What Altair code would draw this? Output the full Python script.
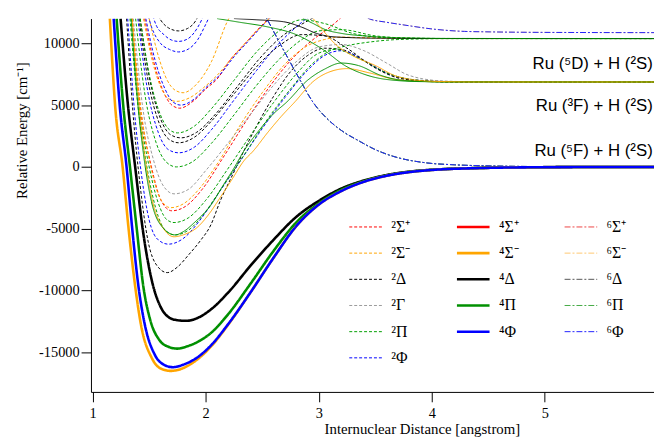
import altair as alt
import pandas as pd

# ---- legend states; order chosen so Vega's 3-column vertical legend reads
#      column 1 = doublets, column 2 = quartets, column 3 = sextets ----
states = ["²Σ⁺", "²Σ⁻", "²Δ", "²Γ", "²Π", "⁶Φ",
          "⁴Σ⁺", "⁴Σ⁻", "⁴Δ", "⁴Π", "⁴Φ", "²Φ",
          "⁶Σ⁺", "⁶Σ⁻", "⁶Δ", "⁶Π"]
color_of = {
    "²Σ⁺": "#ff0000", "²Σ⁻": "#ffa500", "²Δ": "#000000", "²Γ": "#9a9a9a",
    "²Π": "#00a000", "²Φ": "#0000ff",
    "⁴Σ⁺": "#ff0000", "⁴Σ⁻": "#ffa500", "⁴Δ": "#000000", "⁴Π": "#009000",
    "⁴Φ": "#0000ff",
    "⁶Σ⁺": "#ee4444", "⁶Σ⁻": "#ffc870", "⁶Δ": "#555555", "⁶Π": "#44aa44",
    "⁶Φ": "#2222ff",
}
dash_of = {"²": [3, 2], "⁴": [1, 0], "⁶": [6, 2, 2, 2]}
width_of = {"²": 1.0, "⁴": 2.6, "⁶": 1.0}
state_colors = [color_of[s] for s in states]
state_dashes = [dash_of[s[0]] for s in states]
state_widths = [width_of[s[0]] for s in states]

# ---- doublet curves (dashed) : R [angstrom], E [cm-1] ----
d1_R = [1.30, 1.36, 1.42, 1.49, 1.57, 1.66, 1.75, 1.85, 1.95, 2.045, 2.13, 2.24, 2.337, 2.45, 2.6, 2.75, 2.9, 3.05, 3.2, 3.4, 3.6, 3.85, 4.2, 6.0]
d1_E = [12000, 4000, -1500, -6000, -8000, -8550, -8100, -7100, -6000, -4700, -2720, -600, 1280, 3300, 5700, 7700, 9000, 9600, 9500, 8600, 7600, 7000, 6880, 6870]
d2_R = [1.31, 1.37, 1.43, 1.50, 1.58, 1.67, 1.80, 1.95, 2.1, 2.3, 2.5, 2.7, 2.9, 3.05, 3.2, 3.4, 3.6, 3.9, 4.4, 6.0]
d2_E = [12000, 4500, -500, -4300, -5900, -6250, -5800, -4300, -2300, 400, 3100, 5600, 7800, 9000, 9400, 8600, 7600, 7000, 6870, 6870]
d3_R = [1.33, 1.40, 1.48, 1.58, 1.65, 1.73, 1.85, 2.0, 2.15, 2.35, 2.55, 2.75, 2.95, 3.1, 3.25, 3.45, 3.7, 4.2, 6.0]
d3_E = [12000, 5000, 0, -4000, -5200, -5500, -5100, -3600, -1600, 1100, 3900, 6300, 8400, 9400, 9800, 10100, 10300, 10380, 10380]
d4_R = [1.34, 1.41, 1.50, 1.60, 1.66, 1.72, 1.85, 2.0, 2.2, 2.4, 2.6, 2.8, 3.0, 3.15, 3.35, 3.6, 3.9, 4.3, 6.0]
d4_E = [12000, 5000, 0, -3400, -4300, -4500, -4100, -2700, -100, 2600, 5200, 7500, 9200, 9500, 8800, 7600, 7000, 6870, 6870]
d5_R = [1.35, 1.42, 1.52, 1.61, 1.70, 1.82, 1.97, 2.15, 2.35, 2.55, 2.75, 2.95, 3.1, 3.2]
d5_E = [12000, 5000, 0, -2800, -3550, -3200, -1800, 700, 3600, 6300, 8600, 10300, 11300, 12100]
d5b_R = [1.35, 1.42, 1.51, 1.60, 1.69, 1.80, 1.95, 2.12, 2.3, 2.5, 2.7, 2.9, 3.05, 3.2, 3.4, 3.7, 4.0, 6.0]
d5b_E = [12000, 5200, 200, -2600, -3300, -3000, -1700, 500, 3300, 6000, 8300, 9800, 10300, 10500, 10450, 10400, 10380, 10380]
d6_R = [1.36, 1.44, 1.54, 1.63, 1.72, 1.85, 2.0, 2.19, 2.4, 2.6, 2.8, 3.0, 3.2, 3.4, 3.6, 3.8, 4.1, 4.5, 6.0]
d6_E = [12000, 5000, 500, -1600, -2180, -1800, -300, 1840, 4300, 6600, 8500, 9700, 9900, 9400, 8400, 7400, 6950, 6870, 6870]
d7_R = [1.38, 1.46, 1.56, 1.65, 1.74, 1.88, 2.05, 2.25, 2.45, 2.65, 2.85, 3.0, 3.2, 3.5, 3.8, 4.2, 6.0]
d7_E = [12000, 6000, 2000, 400, 0, 400, 1900, 4200, 6600, 8700, 10300, 11000, 11100, 10600, 10420, 10380, 10380]
d8_R = [1.40, 1.48, 1.58, 1.67, 1.76, 1.90, 2.05, 2.25, 2.45, 2.65, 2.85, 2.95]
d8_E = [12000, 6500, 2800, 1400, 1140, 1600, 3000, 5400, 7800, 10000, 11700, 12400]
d9_R = [1.41, 1.49, 1.59, 1.68, 1.76, 1.90, 2.05, 2.25, 2.45, 2.65, 2.85, 3.05, 3.25, 3.5, 3.75, 4.1, 6.0]
d9_E = [12000, 7000, 3500, 2200, 1950, 2400, 3700, 5900, 8100, 9800, 10700, 10600, 9600, 8000, 7100, 6880, 6870]
d10_R = [1.42, 1.50, 1.60, 1.69, 1.78, 1.92, 2.08, 2.28, 2.48, 2.68, 2.88, 3.0]
d10_E = [12000, 7300, 3900, 2600, 2350, 2800, 4200, 6500, 8800, 10600, 11700, 12300]
d11_R = [1.42, 1.50, 1.60, 1.68, 1.75, 1.90, 2.05, 2.25, 2.45, 2.65, 2.85, 3.05, 3.3, 3.6, 4.0, 6.0]
d11_E = [12000, 7500, 4200, 3000, 2750, 3300, 4700, 7000, 9300, 11000, 11900, 11600, 10800, 10450, 10390, 10380]
d12_R = [1.46, 1.54, 1.63, 1.70, 1.77, 1.90, 2.0, 2.1, 2.22, 2.35, 2.48, 2.58]
d12_E = [12000, 8500, 6000, 5000, 4750, 5400, 6300, 7100, 8700, 10000, 11300, 12200]
d13_R = [1.47, 1.55, 1.64, 1.71, 1.78, 1.90, 2.0, 2.12, 2.25, 2.38, 2.5, 2.6]
d13_E = [12000, 8700, 6300, 5250, 5000, 5500, 6400, 7400, 8900, 10200, 11400, 12300]
d14_R = [1.45, 1.53, 1.61, 1.68, 1.74, 1.86, 1.98, 2.1, 2.25, 2.4, 2.55, 2.62]
d14_E = [12000, 8500, 6300, 5450, 5300, 5600, 6400, 7400, 9000, 10500, 11900, 12600]
d15_R = [1.50, 1.58, 1.66, 1.73, 1.80, 1.92, 2.05, 2.19, 2.24]
d15_E = [12000, 9000, 7000, 6200, 6000, 6700, 8500, 11740, 12600]
d16_R = [1.48, 1.52, 1.60, 1.68, 1.76, 1.85, 1.93, 1.99, 2.04]
d16_E = [12600, 11340, 10000, 9500, 9300, 9550, 10300, 11340, 12300]
d17_R = [1.52, 1.56, 1.63, 1.70, 1.76, 1.84, 1.93, 1.97, 2.0]
d17_E = [12600, 11500, 10700, 10250, 10150, 10350, 11300, 12000, 12600]
d18_R = [1.56, 1.60, 1.67, 1.76, 1.84, 1.91, 1.95]
d18_E = [12600, 11900, 11250, 11000, 11200, 11800, 12500]

# ---- sextet curves (dash-dot) ----
s1_R = [2.45, 2.54, 2.68, 2.83, 2.95, 3.07, 3.2, 3.36, 3.5, 3.65, 3.94, 4.2, 4.52, 5.0, 6.0]
s1_E = [13500, 12000, 9600, 7100, 5220, 3940, 2950, 2080, 1400, 880, 340, 170, 80, 25, 0]
s2_R = [3.35, 3.44, 3.6, 3.74, 4.03, 4.29, 4.52, 5.0, 6.0]
s2_E = [12600, 12000, 11700, 11500, 11130, 10960, 10920, 10880, 10860]

# ---- thin quartet curves (solid) ----
b1_R = [1.35, 1.40, 1.46, 1.53, 1.62, 1.72, 1.80, 1.93, 2.03, 2.13, 2.24, 2.337, 2.42, 2.55, 2.67, 2.79, 2.95, 3.1, 3.25, 3.45, 3.7, 4.1, 6.0]
b1_E = [12000, 6000, 1000, -2800, -4900, -5650, -5500, -4850, -3800, -2450, -900, 480, 1280, 2800, 4100, 5270, 6900, 7700, 7950, 7600, 7050, 6880, 6870]
b2_R = [1.34, 1.39, 1.45, 1.52, 1.62, 1.73, 1.80, 1.90, 2.045, 2.15, 2.25, 2.337, 2.45, 2.6, 2.72, 2.9, 3.05, 3.2, 3.35, 3.55, 3.75, 4.1, 6.0]
b2_E = [12000, 6000, 1000, -2800, -4900, -5500, -5250, -4500, -3100, -1550, -100, 1280, 2700, 4300, 5270, 7000, 7900, 8400, 8200, 7400, 7000, 6880, 6870]
u1_R = [2.25, 2.45, 2.69, 2.85, 2.98, 3.1, 3.3, 3.6, 4.0, 6.0]
u1_E = [12000, 11900, 11740, 11300, 10800, 10550, 10450, 10400, 10385, 10380]
u2_R = [2.10, 2.3, 2.54, 2.8, 3.04, 3.24, 3.4, 3.59, 3.9, 4.3, 6.0]
u2_E = [12000, 11700, 11340, 10700, 9480, 8150, 7500, 7085, 6900, 6870, 6870]
u3_R = [2.86, 2.95, 3.06, 3.2, 3.4, 3.7, 4.2, 6.0]
u3_E = [12000, 11600, 11100, 10800, 10600, 10450, 10390, 10380]
u4_R = [2.95, 3.05, 3.15, 3.3, 3.5, 3.7, 4.0, 4.4, 6.0]
u4_E = [12000, 10900, 9900, 9000, 8200, 7300, 6930, 6870, 6870]

# ---- thick low-lying quartets ----
a1_R = [1.152, 1.20, 1.265, 1.32, 1.376, 1.43, 1.52, 1.60, 1.69, 1.78, 1.9, 2.05, 2.2, 2.4, 2.6, 2.8, 3.0, 3.2, 3.4, 3.6, 3.8, 4.0, 4.4, 5.0, 6.0]
a1_E = [12000, 4800, 0, -5200, -9660, -12900, -15400, -16300, -16500, -16350, -15750, -14500, -12750, -10100, -7350, -4800, -3050, -1950, -1200, -720, -420, -250, -100, -25, 0]
a2_R = [1.186, 1.24, 1.30, 1.35, 1.405, 1.46, 1.55, 1.63, 1.71, 1.80, 1.92, 2.05, 2.2, 2.4, 2.6, 2.8, 3.0, 3.2, 3.4, 3.6, 3.8, 4.0, 4.4, 5.0, 6.0]
a2_E = [12000, 4900, 0, -5000, -9660, -12700, -15200, -16000, -16200, -16000, -15450, -14400, -12700, -10100, -7350, -4800, -3050, -1950, -1200, -720, -420, -250, -100, -25, 0]
a3_R = [1.212, 1.27, 1.33, 1.39, 1.448, 1.51, 1.59, 1.67, 1.75, 1.84, 1.95, 2.05, 2.2, 2.4, 2.6, 2.8, 3.0, 3.2, 3.4, 3.6, 3.8, 4.0, 4.4, 5.0, 6.0]
a3_E = [12000, 5000, 0, -5000, -9660, -12400, -14000, -14550, -14700, -14500, -14050, -13400, -11900, -9400, -6800, -4500, -2950, -1850, -1150, -690, -400, -240, -95, -25, 0]
a4_R = [1.247, 1.31, 1.376, 1.45, 1.536, 1.6, 1.68, 1.75, 1.83, 1.92, 2.05, 2.2, 2.4, 2.6, 2.8, 3.0, 3.2, 3.4, 3.6, 3.8, 4.0, 4.4, 5.0, 6.0]
a4_E = [12000, 5200, 0, -5500, -9660, -11300, -12200, -12400, -12450, -12250, -11500, -10150, -7950, -5900, -4050, -2750, -1750, -1100, -660, -380, -230, -90, -20, 0]

# ---- asymptote labels ----
ann_text = ["Ru (⁵D) + H (²S)", "Ru (³F) + H (²S)", "Ru (⁵F) + H (²S)"]
ann_R = [5.955, 5.955, 5.955]
ann_E = [8300, 4900, 1280]

# (name, state, group, R, E); group: thin = dashed/dash-dot, qthin = thin solid, thick
curves = [
    ("d1", "²Δ", "thin", d1_R, d1_E), ("d2", "²Φ", "thin", d2_R, d2_E),
    ("d3", "²Π", "thin", d3_R, d3_E), ("d4", "²Π", "thin", d4_R, d4_E),
    ("d5", "²Σ⁺", "thin", d5_R, d5_E), ("d5b", "²Σ⁻", "thin", d5b_R, d5b_E),
    ("d6", "²Γ", "thin", d6_R, d6_E), ("d7", "²Π", "thin", d7_R, d7_E),
    ("d8", "²Φ", "thin", d8_R, d8_E), ("d9", "²Δ", "thin", d9_R, d9_E),
    ("d10", "²Δ", "thin", d10_R, d10_E), ("d11", "²Π", "thin", d11_R, d11_E),
    ("d12", "²Σ⁺", "thin", d12_R, d12_E), ("d13", "²Φ", "thin", d13_R, d13_E),
    ("d14", "²Σ⁻", "thin", d14_R, d14_E), ("d15", "²Σ⁻", "thin", d15_R, d15_E),
    ("d16", "²Φ", "thin", d16_R, d16_E), ("d17", "²Φ", "thin", d17_R, d17_E),
    ("d18", "²Δ", "thin", d18_R, d18_E),
    ("s1a", "⁶Δ", "thin", s1_R, s1_E), ("s1b", "⁶Π", "thin", s1_R, s1_E),
    ("s1c", "⁶Φ", "thin", s1_R, s1_E),
    ("s2a", "⁶Σ⁻", "thin", s2_R, s2_E), ("s2b", "⁶Φ", "thin", s2_R, s2_E),
    ("b1", "⁴Σ⁻", "qthin", b1_R, b1_E), ("b2", "⁴Π", "qthin", b2_R, b2_E),
    ("u1", "⁴Δ", "qthin", u1_R, u1_E), ("u2", "⁴Π", "qthin", u2_R, u2_E),
    ("u3", "⁴Π", "qthin", u3_R, u3_E), ("u4", "⁴Σ⁻", "qthin", u4_R, u4_E),
    ("a4", "⁴Δ", "thick", a4_R, a4_E), ("a3", "⁴Π", "thick", a3_R, a3_E),
    ("a1", "⁴Σ⁻", "thick", a1_R, a1_E), ("a2", "⁴Φ", "thick", a2_R, a2_E),
]

rows = []
for k, (name, st, grp, Rs, Es) in enumerate(curves):
    for r, e in zip(Rs, Es):
        rows.append({"curve": f"{k:02d}_{name}", "state": st, "group": grp, "R": r, "E": e})
df = pd.DataFrame(rows)
ann_df = pd.DataFrame({"label": ann_text, "R": ann_R, "E": ann_E})

x_enc = alt.X("R:Q",
              scale=alt.Scale(domain=[0.985, 5.966], nice=False, zero=False),
              axis=alt.Axis(values=[1, 2, 3, 4, 5], format="d", grid=False,
                            title="Internuclear Distance [angstrom]",
                            titleX=335, titleY=42,
                            titleAlign="center", titleBaseline="alphabetic",
                            tickSize=10, labelPadding=5))
y_enc = alt.Y("E:Q",
              scale=alt.Scale(domain=[-18200, 12000], nice=False, zero=False),
              axis=alt.Axis(values=[-15000, -10000, -5000, 0, 5000, 10000], grid=False,
                            labelExpr="datum.value + ''",
                            title="Relative Energy [cm⁻¹]",
                            titleX=-70, titleY=113, titleAngle=-90,
                            titleAlign="center", titleBaseline="middle",
                            tickSize=10, labelPadding=2))
col = alt.Color("state:N", scale=alt.Scale(domain=states, range=state_colors),
                legend=alt.Legend(title=None))
dsh = alt.StrokeDash("state:N", scale=alt.Scale(domain=states, range=state_dashes),
                     legend=alt.Legend(title=None))
swd = alt.StrokeWidth("state:N",
                      scale=alt.Scale(type="ordinal", domain=states, range=state_widths),
                      legend=alt.Legend(title=None))

base = alt.Chart(df)
thin = base.transform_filter(alt.datum.group == "thin").mark_line(
    clip=True, interpolate="monotone").encode(
    x=x_enc, y=y_enc, color=col, strokeDash=dsh, strokeWidth=alt.value(1.0),
    detail="curve:N")
qthin = base.transform_filter(alt.datum.group == "qthin").mark_line(
    clip=True, interpolate="monotone").encode(
    x=x_enc, y=y_enc, color=col, strokeDash=dsh, strokeWidth=alt.value(1.0),
    detail="curve:N")
thick = base.transform_filter(alt.datum.group == "thick").mark_line(
    clip=True, interpolate="monotone").encode(
    x=x_enc, y=y_enc, color=col, strokeDash=dsh, strokeWidth=swd, detail="curve:N")
labels = alt.Chart(ann_df).mark_text(
    align="right", baseline="middle", font="Liberation Sans", fontSize=17,
    color="black").encode(x=alt.X("R:Q"), y=alt.Y("E:Q"), text="label:N")

chart = alt.layer(thin, qthin, thick, labels).properties(
    width=570, height=378, autosize="none",
    padding={"left": 84, "top": 8, "right": 0, "bottom": 46}
).configure_view(stroke=None).configure_axis(
    domainColor="black", tickColor="black", labelColor="black", titleColor="black",
    labelFont="Liberation Serif", labelFontSize=14.5, titleFont="Liberation Serif",
    titleFontSize=15, titleFontWeight="normal", domainWidth=1, tickWidth=1
).configure_legend(
    orient="none", legendX=260, legendY=202, columns=3, symbolType="stroke",
    symbolSize=1089, clipHeight=18, rowPadding=8.5, columnPadding=45,
    labelFont="Liberation Serif", labelFontSize=16, labelOffset=8, padding=0,
    labelColor="black", gridAlign="each"
)

chart.save("out.html", embed_options={"renderer": "svg", "actions": False})
